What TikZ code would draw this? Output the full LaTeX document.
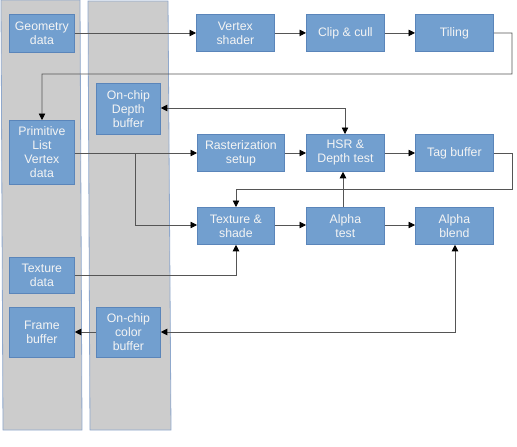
\documentclass[tikz,border=0pt]{standalone}
\usepackage{fontspec}
\setmainfont{Liberation Sans}
\usetikzlibrary{arrows.meta}
\definecolor{boxfill}{HTML}{729FCF}
\definecolor{boxline}{HTML}{5A85BA}
\definecolor{colfill}{HTML}{CCCCCC}
\definecolor{colline}{HTML}{8FA8CC}
\definecolor{wire}{HTML}{555555}
\definecolor{txt}{HTML}{F4F4F4}
\tikzset{
  blk/.style={draw=boxline, fill=boxfill, line width=0.8pt, text=txt, align=center,
    font=\fontsize{12.3}{14}\selectfont, inner sep=0pt, anchor=north west},
  lane/.style={draw=colline, fill=colfill, line width=0.8pt},
  tip/.style={Triangle[length=6.5pt,width=6.5pt,color=black]},
  wr/.style={draw=wire, line width=0.8pt, -{Triangle[length=6.5pt,width=6.5pt,color=black]}},
  wrb/.style={draw=wire, line width=0.8pt, {Triangle[length=6.5pt,width=6.5pt,color=black]}-{Triangle[length=6.5pt,width=6.5pt,color=black]}}
}
\newcommand{\bx}[6]{\node[blk, minimum width=#4pt, minimum height=#5pt] (#1) at (#2pt,-#3pt) {#6};}
\begin{document}
\begin{tikzpicture}[x=1pt,y=1pt]
\useasboundingbox (0,0) rectangle (517,-447);
% lanes
\draw[lane] (1,0) -- (80,0) -- (82,-430) -- (3,-430) -- cycle;
\draw[lane] (88,-1) -- (168,-1) -- (171,-430) -- (90,-430) -- cycle;
% boxes
\bx{geo}{9}{14}{65}{38}{Geometry\\data}
\bx{vs}{196}{14}{78}{37}{Vertex\\shader}
\bx{clip}{306}{14}{78}{37}{Clip \& cull}
\bx{til}{415}{14}{78}{37}{Tiling}
\bx{prim}{9}{120}{65}{64}{Primitive\\List\\Vertex\\data}
\bx{dep}{96}{83}{64}{51}{On-chip\\Depth\\buffer}
\bx{ras}{197}{134}{87}{37}{Rasterization\\setup}
\bx{hsr}{306}{134}{78}{37}{HSR \&\\Depth test}
\bx{tag}{415}{134}{78}{37}{Tag buffer}
\bx{tex}{197}{207}{77}{37}{Texture \&\\shade}
\bx{at}{306}{207}{78}{37}{Alpha\\test}
\bx{ab}{415}{207}{78}{37}{Alpha\\blend}
\bx{td}{9}{257}{65}{36}{Texture\\data}
\bx{fb}{9}{307}{65}{50}{Frame\\buffer}
\bx{cb}{96}{307}{64}{50}{On-chip\\color\\buffer}
% coordinates
\coordinate (t1) at (512,-33);
\coordinate (t2) at (512,-74);
\coordinate (t3) at (42,-74);
\coordinate (d1) at (345,-108);
\coordinate (br) at (135,-153);
\coordinate (br2) at (135,-225);
\coordinate (g1) at (512,-153);
\coordinate (g2) at (512,-189);
\coordinate (g3) at (236,-189);
\coordinate (x1) at (236,-275);
\coordinate (c1) at (455,-332);
% connectors
\draw[wr] (geo.east |- 0,-33) -- (vs.west |- 0,-33);
\draw[wr] (vs) -- (clip);
\draw[wr] (clip) -- (til);
\draw[wr] (til.east) -- (t1) -- (t2) -- (t3) -- (t3 |- prim.north);
\draw[wrb] (dep.east |- d1) -- (d1) -- (hsr.north -| d1);
\draw[wr] (prim.east |- br) -- (ras.west |- br);
\draw[wr] (br) -- (br2) -- (tex.west |- br2);
\draw[wr] (ras.east |- br) -- (hsr.west |- br);
\draw[wr] (hsr.east |- br) -- (tag.west |- br);
\draw[wr] (tag.east |- g1) -- (g1) -- (g2) -- (g3) -- (tex.north -| g3);
\draw[wr] (at.north -| 343,0) -- (hsr.south -| 343,0);
\draw[wr] (tex.east |- br2) -- (at.west |- br2);
\draw[wr] (at.east |- br2) -- (ab.west |- br2);
\draw[wr] (td.east |- x1) -- (x1) -- (tex.south -| x1);
\draw[wrb] (cb.east |- c1) -- (c1) -- (ab.south -| c1);
\draw[wr] (cb.west |- c1) -- (fb.east |- c1);
\end{tikzpicture}
\end{document}
